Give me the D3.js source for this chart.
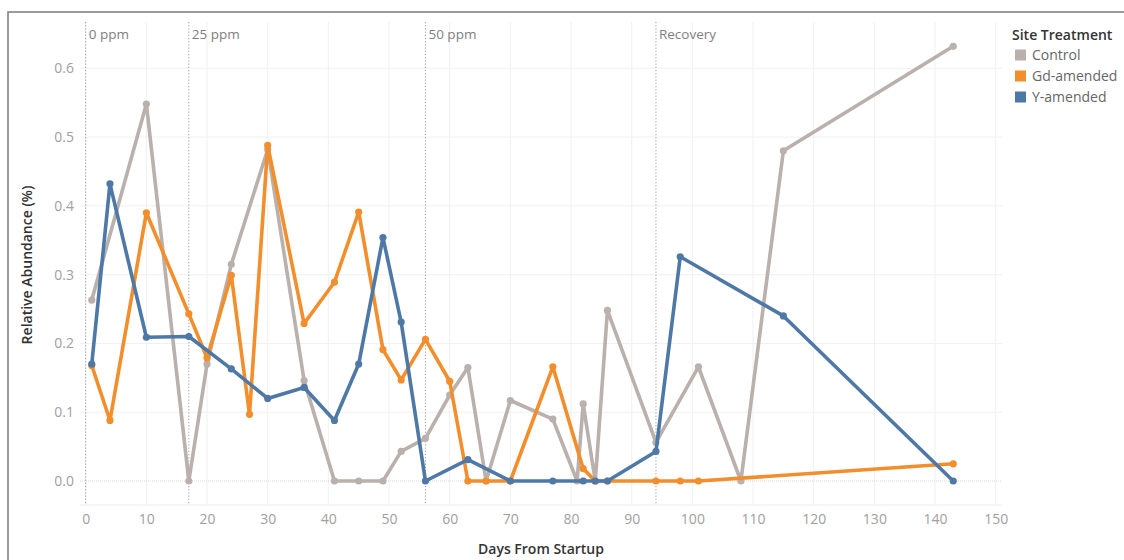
<!DOCTYPE html>
<html>
<head>
<meta charset="utf-8">
<script src="https://cdn.jsdelivr.net/npm/d3@7"></script>
<style>
  html, body { margin: 0; padding: 0; background: #fff; }
  svg { display: block; font-family: "Open Sans", "Noto Sans", sans-serif; }
</style>
</head>
<body>
<svg id="chart" width="1124" height="560"></svg>
<script>
// Relative abundance by site treatment over days from startup
const seriesNames = ["Control", "Gd-amended", "Y-amended"];
const seriesColors = ["#bab0ac", "#f28e2b", "#4e79a7"];

const controlDays   = [1, 10, 17, 20, 24, 30, 36, 41, 45, 49, 52, 56, 60, 63, 66, 70, 77, 81, 82, 84, 86, 94, 101, 108, 115, 143];
const controlValues = [0.263, 0.548, 0.0, 0.17, 0.315, 0.482, 0.146, 0.0, 0.0, 0.0, 0.043, 0.062, 0.125, 0.165, 0.0, 0.117, 0.09, 0.0, 0.112, 0.0, 0.248, 0.056, 0.166, 0.0, 0.48, 0.632];

const gdDays   = [1, 4, 10, 17, 20, 24, 27, 30, 36, 41, 45, 49, 52, 56, 60, 63, 66, 70, 77, 82, 84, 86, 94, 98, 101, 143];
const gdValues = [0.168, 0.088, 0.39, 0.243, 0.179, 0.299, 0.097, 0.488, 0.229, 0.289, 0.391, 0.191, 0.147, 0.206, 0.145, 0.0, 0.0, 0.0, 0.166, 0.018, 0.0, 0.0, 0.0, 0.0, 0.0, 0.025];

const yDays   = [1, 4, 10, 17, 24, 30, 36, 41, 45, 49, 52, 56, 63, 70, 77, 82, 84, 86, 94, 98, 115, 143];
const yValues = [0.17, 0.432, 0.209, 0.21, 0.163, 0.12, 0.136, 0.088, 0.17, 0.354, 0.231, 0.0, 0.031, 0.0, 0.0, 0.0, 0.0, 0.0, 0.043, 0.326, 0.24, 0.0];

const phaseDays   = [0, 17, 56, 94];
const phaseLabels = ["0 ppm", "25 ppm", "50 ppm", "Recovery"];

const xTicks = d3.range(0, 151, 10);
const yTicks = [0, 0.1, 0.2, 0.3, 0.4, 0.5, 0.6];

const series = [
  { name: seriesNames[0], color: seriesColors[0], days: controlDays, values: controlValues },
  { name: seriesNames[1], color: seriesColors[1], days: gdDays, values: gdValues },
  { name: seriesNames[2], color: seriesColors[2], days: yDays, values: yValues }
];

const svg = d3.select("#chart");
const FONT = "'Open Sans', 'Noto Sans', sans-serif";

// plot frame
const plot = { left: 80, right: 1002, top: 22, bottom: 505 };

const x = d3.scaleLinear().domain([0, 150]).range([85.7, 995.7]);
const y = d3.scaleLinear().domain([0, 0.6]).range([481, 68.3]);

// outer worksheet border
svg.append("rect")
  .attr("x", 8).attr("y", 12)
  .attr("width", 1130).attr("height", 560)
  .attr("fill", "none")
  .attr("stroke", "#7a7a7a")
  .attr("stroke-width", 1.5);

// gridlines
const grid = svg.append("g");
grid.selectAll("line.vg").data(xTicks).join("line")
  .attr("x1", d => x(d)).attr("x2", d => x(d))
  .attr("y1", plot.top).attr("y2", plot.bottom)
  .attr("stroke", "#f0f0f0").attr("stroke-width", 1);
grid.selectAll("line.hg").data(yTicks.filter(d => d !== 0)).join("line")
  .attr("x1", plot.left).attr("x2", plot.right)
  .attr("y1", d => y(d)).attr("y2", d => y(d))
  .attr("stroke", "#f0f0f0").attr("stroke-width", 1);
// zero line
grid.append("line")
  .attr("x1", plot.left).attr("x2", plot.right)
  .attr("y1", y(0)).attr("y2", y(0))
  .attr("stroke", "#d8d8d8").attr("stroke-width", 1)
  .attr("stroke-dasharray", "1,1");
// bottom edge of the pane
grid.append("line")
  .attr("x1", plot.left).attr("x2", plot.right)
  .attr("y1", plot.bottom).attr("y2", plot.bottom)
  .attr("stroke", "#ececec").attr("stroke-width", 1);

// x axis
const xAxis = svg.append("g")
  .attr("transform", `translate(0,${plot.bottom})`)
  .call(d3.axisBottom(x).tickValues(xTicks).tickSize(0).tickPadding(9));
xAxis.select(".domain").remove();
xAxis.selectAll("text")
  .attr("fill", "#a0a0a0").attr("font-size", 14)
  .attr("font-family", FONT);

// y axis
const yAxis = svg.append("g")
  .attr("transform", `translate(${plot.left},0)`)
  .call(d3.axisLeft(y).tickValues(yTicks).tickFormat(d3.format(".1f")).tickSize(0).tickPadding(6));
yAxis.select(".domain").remove();
yAxis.selectAll("text")
  .attr("fill", "#a0a0a0").attr("font-size", 14)
  .attr("font-family", FONT);

// axis titles
svg.append("text")
  .attr("x", 541).attr("y", 554)
  .attr("text-anchor", "middle")
  .attr("font-size", 14).attr("font-weight", 600)
  .attr("fill", "#333")
  .text("Days From Startup");
svg.append("text")
  .attr("transform", "translate(32,265) rotate(-90)")
  .attr("text-anchor", "middle")
  .attr("font-size", 14).attr("font-weight", 600)
  .attr("fill", "#333")
  .text("Relative Abundance (%)");

// treatment phase reference lines
const phases = svg.append("g");
phaseDays.forEach((d, i) => {
  phases.append("line")
    .attr("x1", x(d)).attr("x2", x(d))
    .attr("y1", plot.top).attr("y2", plot.bottom)
    .attr("stroke", "#9a9a9a").attr("stroke-width", 1)
    .attr("stroke-dasharray", "1.2,2");
  phases.append("text")
    .attr("x", x(d) + 3).attr("y", 39)
    .attr("font-size", 13.5).attr("fill", "#808080")
    .text(phaseLabels[i]);
});

// series lines and markers
const line = d3.line().x(p => x(p[0])).y(p => y(p[1]));
series.forEach(s => {
  const pts = s.days.map((d, i) => [d, s.values[i]]);
  const g = svg.append("g");
  g.append("path")
    .datum(pts)
    .attr("d", line)
    .attr("fill", "none")
    .attr("stroke", s.color)
    .attr("stroke-width", 3.6)
    .attr("stroke-linejoin", "round");
  g.selectAll("circle").data(pts).join("circle")
    .attr("cx", p => x(p[0])).attr("cy", p => y(p[1]))
    .attr("r", 3.6)
    .attr("fill", s.color);
});

// legend
const legend = svg.append("g").attr("transform", "translate(1012,0)");
legend.append("text")
  .attr("x", 0).attr("y", 40)
  .attr("font-size", 14).attr("font-weight", 600).attr("fill", "#333")
  .text("Site Treatment");
series.forEach((s, i) => {
  const cy = 55 + i * 21;
  legend.append("rect")
    .attr("x", 3).attr("y", cy - 5.5)
    .attr("width", 11).attr("height", 11)
    .attr("fill", s.color);
  legend.append("text")
    .attr("x", 20).attr("y", cy + 5)
    .attr("font-size", 14).attr("fill", "#666")
    .text(s.name);
});
</script>
</body>
</html>
